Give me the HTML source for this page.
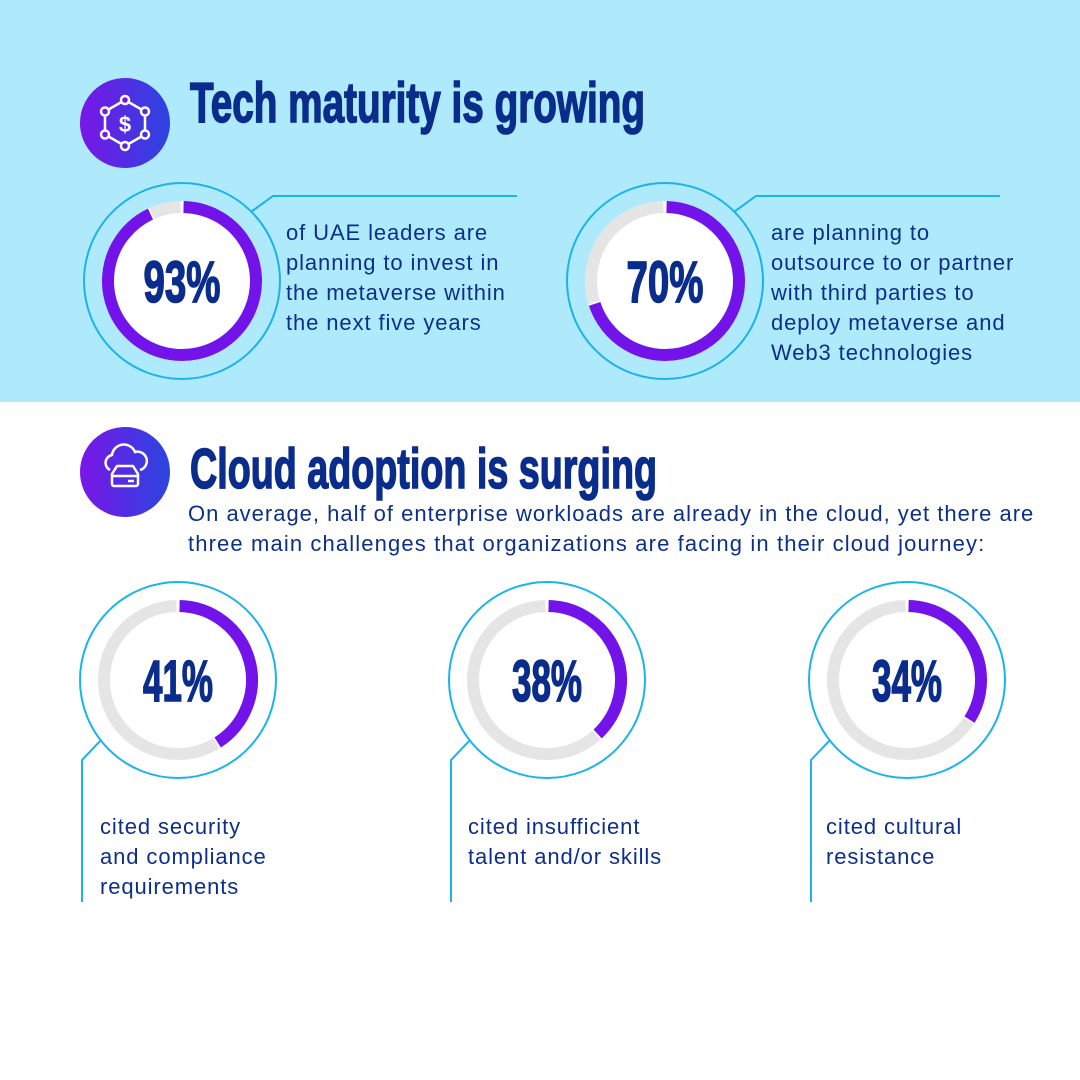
<!DOCTYPE html>
<html><head><meta charset="utf-8">
<style>
html,body{margin:0;padding:0;background:#fff;}
svg{display:block;}
.t{font-family:"Liberation Sans",sans-serif;font-size:22px;fill:#0c2f8a;letter-spacing:0.9px;}
.s{font-family:"Liberation Sans",sans-serif;font-size:22px;fill:#0c2f8a;letter-spacing:0.75px;}
.h{font-family:"Liberation Sans Narrow","Liberation Sans",sans-serif;font-weight:bold;fill:#0a2d8c;stroke:#0a2d8c;stroke-width:1.6px;}
</style></head>
<body>
<svg id="chart" width="1080" height="1080" viewBox="0 0 1080 1080" xmlns="http://www.w3.org/2000/svg">
<defs>
<linearGradient id="ig" x1="0" x2="1" y1="0" y2="0"><stop offset="0" stop-color="#7a16e6"/><stop offset="1" stop-color="#2a45e0"/></linearGradient>
</defs>
<rect x="0" y="0" width="1080" height="402" fill="#aeeafc"/>

<g>
<circle cx="125" cy="123" r="45" fill="url(#ig)"/>
<polygon points="125,100 145,111.5 145,134.5 125,146 105,134.5 105,111.5" fill="none" stroke="#fff" stroke-width="2.5"/>
<circle cx="125" cy="100" r="4" fill="#7a16e6" stroke="#fff" stroke-width="2.5"/>
<circle cx="145" cy="111.5" r="4" fill="#4a30e3" stroke="#fff" stroke-width="2.5"/>
<circle cx="145" cy="134.5" r="4" fill="#4a30e3" stroke="#fff" stroke-width="2.5"/>
<circle cx="125" cy="146" r="4" fill="#5a26e4" stroke="#fff" stroke-width="2.5"/>
<circle cx="105" cy="134.5" r="4" fill="#7a16e6" stroke="#fff" stroke-width="2.5"/>
<circle cx="105" cy="111.5" r="4" fill="#7a16e6" stroke="#fff" stroke-width="2.5"/>
<text x="125" y="132" text-anchor="middle" font-family="Liberation Sans,sans-serif" font-size="22" font-weight="bold" fill="#fff">$</text>
</g>
<text class="h" x="190" y="122" font-size="57" textLength="455" lengthAdjust="spacingAndGlyphs">Tech maturity is growing</text>

<g>
<circle cx="125" cy="472" r="45" fill="url(#ig)"/>
<path d="M110,470 a8,8 0 0 1 2,-15 a12,12 0 0 1 23,-3 a9,9 0 0 1 5,18" fill="none" stroke="#fff" stroke-width="2.5"/>
<path d="M112,474 l5,-8 h16 l5,8 v10 a2,2 0 0 1 -2,2 h-22 a2,2 0 0 1 -2,-2 z M112,476 h26" fill="none" stroke="#fff" stroke-width="2.5" stroke-linejoin="round"/>
<line x1="128" y1="481" x2="134" y2="481" stroke="#fff" stroke-width="2.5"/>
</g>
<text class="h" x="190" y="488" font-size="57" textLength="467" lengthAdjust="spacingAndGlyphs">Cloud adoption is surging</text>
<text class="s" x="188" y="521" textLength="846">On average, half of enterprise workloads are already in the cloud, yet there are</text>
<text class="s" x="188" y="551" textLength="797">three main challenges that organizations are facing in their cloud journey:</text>

<g id="donuts"></g>
</svg>
<script>
const labels = ["93%","70%","41%","38%","34%"];
const values = [93, 70, 41, 38, 34];
const captions = [
 ["of UAE leaders are","planning to invest in","the metaverse within","the next five years"],
 ["are planning to","outsource to or partner","with third parties to","deploy metaverse and","Web3 technologies"],
 ["cited security","and compliance","requirements"],
 ["cited insufficient","talent and/or skills"],
 ["cited cultural","resistance"]
];
const layout = [
 {cx:182,cy:281,top:true,tx:286,ty:240},
 {cx:665,cy:281,top:true,tx:771,ty:240},
 {cx:178,cy:680,top:false,tx:100,ty:834},
 {cx:547,cy:680,top:false,tx:468,ty:834},
 {cx:907,cy:680,top:false,tx:826,ty:834}
];
const NS="http://www.w3.org/2000/svg";
const g=document.getElementById('donuts');
function mk(tag,attrs){const e=document.createElementNS(NS,tag);for(const k in attrs)e.setAttribute(k,attrs[k]);return e;}
function pt(cx,cy,r,a){const t=(a-90)*Math.PI/180;return [cx+r*Math.cos(t),cy+r*Math.sin(t)];}
function arc(cx,cy,r,a0,a1){const p0=pt(cx,cy,r,a0),p1=pt(cx,cy,r,a1);const large=(a1-a0)>180?1:0;return `M${p0[0]},${p0[1]} A${r},${r} 0 ${large} 1 ${p1[0]},${p1[1]}`;}
values.forEach((v,i)=>{
 const L=layout[i];const cx=L.cx,cy=L.cy;
 const grp=mk('g',{});
 
 
 const outer=mk('circle',{cx:cx,cy:cy,r:98,fill:'none',stroke:'#1ab3ea','stroke-width':2});
 
 
 grp.appendChild(outer);
 if(L.top){const f=mk('circle',{cx:cx,cy:cy,r:80,fill:'#fff'});
  
  
  grp.appendChild(f);}
 const gap=1.2, end=v*3.6;
 const gray=mk('path',{d:arc(cx,cy,74,end+gap,360-gap),fill:'none',stroke:'#e5e5e5','stroke-width':12});
 
 
 grp.appendChild(gray);
 const pur=mk('path',{d:arc(cx,cy,74,gap,end),fill:'none',stroke:'#7213ea','stroke-width':12});
 
 
 grp.appendChild(pur);
 const t=mk('text',{x:cx,y:cy+21,'text-anchor':'middle','class':'h','font-size':58,textLength:i<2?77:70,lengthAdjust:'spacingAndGlyphs'});
 t.textContent=labels[i];
 
 
 grp.appendChild(t);
 let d;
 if(L.top){const p=pt(cx,cy,98,45);d=`M${p[0]},${p[1]} L${cx+91},${cy-85} L${cx+335},${cy-85}`;}
 else{const p=pt(cx,cy,98,232);d=`M${p[0]},${p[1]} L${cx-96},${cy+80} L${cx-96},${cy+222}`;}
 const ln=mk('path',{d:d,fill:'none',stroke:'#1ab3ea','stroke-width':2});
 
 
 grp.appendChild(ln);
 captions[i].forEach((s,j)=>{
  const c=mk('text',{x:L.tx,y:L.ty+j*30,'class':'t'});
  c.textContent=s;
  
  
  grp.appendChild(c);
 });
 g.appendChild(grp);
});
</script>
</body></html>
